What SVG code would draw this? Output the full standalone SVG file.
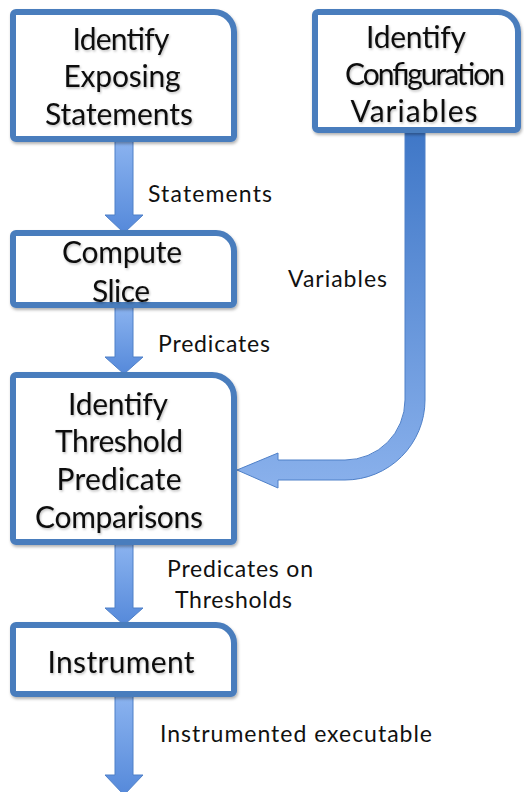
<svg xmlns="http://www.w3.org/2000/svg" width="524" height="792" viewBox="0 0 524 792">
<style>
.box{fill:#ffffff;stroke:#4a7dbd;stroke-width:6;stroke-linejoin:round;filter:url(#sh)}
.t{font-family:Lato,"Open Sans","Liberation Sans",sans-serif;font-size:30px;fill:#111;text-anchor:middle;filter:url(#tsh)}
.lbl{font-family:Lato,"Open Sans","Liberation Sans",sans-serif;font-size:23px;fill:#111}
.arr{fill:url(#gv);stroke:#4f80c8;stroke-width:1}
</style>
<defs>
<filter id="sh" x="-10%" y="-10%" width="130%" height="130%">
<feDropShadow dx="1" dy="2" stdDeviation="1.5" flood-color="#000" flood-opacity="0.3"/>
</filter>
<filter id="tsh" x="-10%" y="-20%" width="130%" height="150%">
<feDropShadow dx="1" dy="1.5" stdDeviation="1" flood-color="#000" flood-opacity="0.25"/>
</filter>
<linearGradient id="gv" x1="0" y1="0" x2="0" y2="1">
<stop offset="0" stop-color="#8cb4f0"/>
<stop offset="1" stop-color="#5589da"/>
</linearGradient>
<linearGradient id="gbig" gradientUnits="userSpaceOnUse" x1="0" y1="130" x2="0" y2="490">
<stop offset="0" stop-color="#3f77c7"/>
<stop offset="1" stop-color="#8ab1ec"/>
</linearGradient>
</defs>
<g id="connectors">
<path class="arr" d="M115,139 H133 V215 H143 L124,233 L105,215 H115 Z"/>
<path class="arr" d="M115,305 H133 V357 H143 L124,374 L105,357 H115 Z"/>
<path class="arr" d="M115,542 H133 V608 H143 L124,625 L105,608 H115 Z"/>
<path class="arr" d="M115,694 H133 V775 H143 L124,795 L105,775 H115 Z"/>
<path d="M405,130 H425 V400 A80,80 0 0 1 345,480 H278 V488 L237,470 L278,453 V460 H345 A60,60 0 0 0 405,400 Z" fill="url(#gbig)" stroke="#4f80c8" stroke-width="1"/>
</g>
<g id="n1">
<path class="box" d="M16,12 H214 A20,20 0 0 1 234,32 V136 A3,3 0 0 1 231,139 H16 A3,3 0 0 1 13,136 V15 A3,3 0 0 1 16,12 Z"/>
<text class="t" x="121" y="50" textLength="97">Identify</text>
<text class="t" x="122" y="87" textLength="117">Exposing</text>
<text class="t" x="119" y="125" textLength="148">Statements</text>
</g>
<g id="n2">
<path class="box" d="M318,12 H498 A20,20 0 0 1 518,32 V127 A3,3 0 0 1 515,130 H318 A3,3 0 0 1 315,127 V15 A3,3 0 0 1 318,12 Z"/>
<text class="t" x="416" y="48" textLength="100">Identify</text>
<text class="t" x="425" y="85" textLength="160">Configuration</text>
<text class="t" x="414" y="122" textLength="127">Variables</text>
</g>
<g id="n3">
<path class="box" d="M16,233 H216 A18,18 0 0 1 234,251 V302 A3,3 0 0 1 231,305 H16 A3,3 0 0 1 13,302 V236 A3,3 0 0 1 16,233 Z"/>
<text class="t" x="122" y="263" textLength="120">Compute</text>
<text class="t" x="121" y="302" textLength="58">Slice</text>
</g>
<g id="n4">
<path class="box" d="M16,375 H212 A22,22 0 0 1 234,397 V539 A3,3 0 0 1 231,542 H16 A3,3 0 0 1 13,539 V378 A3,3 0 0 1 16,375 Z"/>
<text class="t" x="118" y="415" textLength="100">Identify</text>
<text class="t" x="119" y="452" textLength="128">Threshold</text>
<text class="t" x="119" y="490" textLength="125">Predicate</text>
<text class="t" x="119" y="528" textLength="168">Comparisons</text>
</g>
<g id="n5">
<path class="box" d="M16,625 H216 A18,18 0 0 1 234,643 V691 A3,3 0 0 1 231,694 H16 A3,3 0 0 1 13,691 V628 A3,3 0 0 1 16,625 Z"/>
<text class="t" x="121" y="673" textLength="147">Instrument</text>
</g>
<g id="labels">
<text class="lbl" x="148" y="202" textLength="124">Statements</text>
<text class="lbl" x="288" y="287" textLength="99">Variables</text>
<text class="lbl" x="158" y="352" textLength="112">Predicates</text>
<text class="lbl" x="167" y="577" textLength="146">Predicates on</text>
<text class="lbl" x="175" y="608" textLength="117">Thresholds</text>
<text class="lbl" x="160" y="742" textLength="272">Instrumented executable</text>
</g>
</svg>
